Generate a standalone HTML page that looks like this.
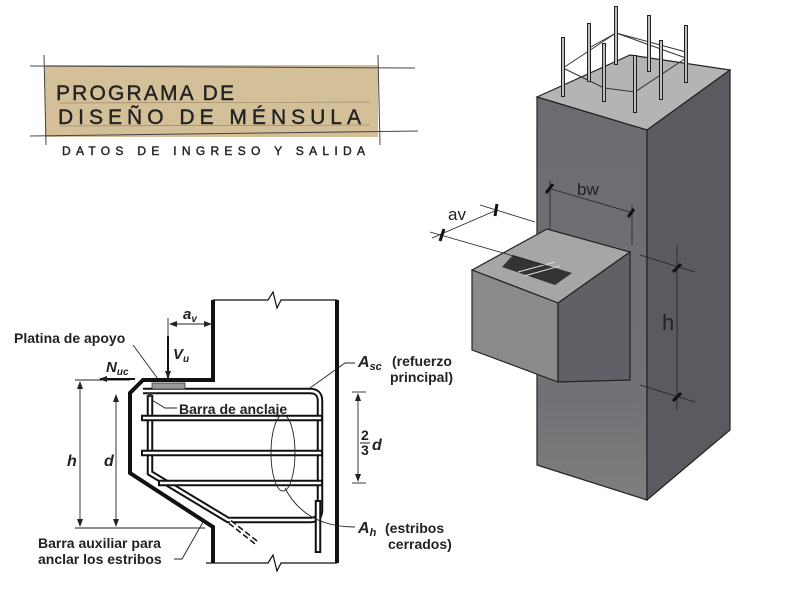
<!DOCTYPE html>
<html><head><meta charset="utf-8"><style>
html,body{margin:0;padding:0;background:#fff;width:800px;height:600px;overflow:hidden}
svg{display:block}
.t{font-family:"Liberation Sans",Arial,sans-serif;font-weight:bold;font-size:14px;fill:#222}
.i{font-family:"Liberation Sans",Arial,sans-serif;font-weight:bold;font-style:italic;fill:#222}
.h{font-family:"Liberation Sans",Arial,sans-serif;fill:#222;letter-spacing:2px;stroke:#222;stroke-width:0.4}
</style></head><body>
<svg width="800" height="600" viewBox="0 0 800 600" xmlns="http://www.w3.org/2000/svg">
<defs>
<marker id="ar" markerWidth="8" markerHeight="8" refX="7" refY="4" orient="auto" markerUnits="userSpaceOnUse"><path d="M0,1 L8,4 L0,7 Z" fill="#222"/></marker>
<marker id="ar2" markerWidth="8" markerHeight="8" refX="7" refY="4" orient="auto-start-reverse" markerUnits="userSpaceOnUse"><path d="M0,1 L8,4 L0,7 Z" fill="#222"/></marker>
<linearGradient id="fg" x1="0" y1="0" x2="0" y2="1"><stop offset="0" stop-color="#6c6c70"/><stop offset="0.75" stop-color="#727276"/><stop offset="1" stop-color="#7e7e80"/></linearGradient>
</defs>

<!-- Title -->
<rect x="45" y="65" width="333" height="72" fill="#d3bf98"/>
<line x1="30" y1="66" x2="415" y2="68" stroke="#444" stroke-width="1"/>
<line x1="30" y1="136" x2="418" y2="131" stroke="#444" stroke-width="1"/>
<line x1="44" y1="55" x2="46" y2="145" stroke="#444" stroke-width="1"/>
<line x1="378" y1="55" x2="380" y2="145" stroke="#444" stroke-width="1"/>
<line x1="60" y1="103" x2="370" y2="102" stroke="#8a7a5a" stroke-width="0.6"/>
<line x1="60" y1="126" x2="370" y2="125" stroke="#8a7a5a" stroke-width="0.6"/>
<text x="56" y="100" class="h" font-size="21" textLength="180">PROGRAMA DE</text>
<text x="58" y="124" class="h" font-size="21" textLength="305">DISEÑO DE MÉNSULA</text>
<text x="62" y="155" class="h" font-size="12" textLength="305">DATOS DE INGRESO Y SALIDA</text>

<!-- 3D column -->
<polygon points="537,97 630,55 730,70 647,130" fill="#b4b4b4" stroke="#222" stroke-width="1.2"/>
<polygon points="537,97 647,130 647,500 537,465" fill="url(#fg)" stroke="#222" stroke-width="1.2"/>
<polygon points="647,130 730,70 730,430 647,500" fill="#5a5a60" stroke="#222" stroke-width="1.2"/>
<!-- rebars -->
<g stroke="#333" stroke-width="1" fill="none">
<polyline points="563,68 604,88 635,92 686,58 616,33 563,68"/>
<polyline points="589,48 616,33 686,52"/>
</g>
<g stroke="#222" stroke-width="4">
<line x1="563" y1="37" x2="563" y2="97"/><line x1="589" y1="23" x2="589" y2="82"/>
<line x1="604" y1="43" x2="604" y2="102"/><line x1="616" y1="6" x2="616" y2="65"/>
<line x1="635" y1="55" x2="635" y2="113"/><line x1="649" y1="15" x2="649" y2="72"/>
<line x1="661" y1="40" x2="661" y2="100"/><line x1="686" y1="25" x2="686" y2="83"/>
</g>
<g stroke="#e6e6e6" stroke-width="1.6"><line x1="563" y1="38" x2="563" y2="96"/><line x1="589" y1="24" x2="589" y2="81"/><line x1="604" y1="44" x2="604" y2="101"/><line x1="616" y1="7" x2="616" y2="64"/><line x1="635" y1="56" x2="635" y2="112"/><line x1="649" y1="16" x2="649" y2="71"/><line x1="661" y1="41" x2="661" y2="99"/><line x1="686" y1="26" x2="686" y2="82"/></g>
<!-- corbel -->
<polygon points="472,270 547,229 630,252 558,303" fill="#a6a6a6" stroke="#222" stroke-width="1.2"/>
<polygon points="472,270 558,303 558,382 472,350" fill="#8a8a8c" stroke="#222" stroke-width="1.2"/>
<polygon points="558,303 630,252 630,380 558,382" fill="#606066" stroke="#222" stroke-width="1.2"/>
<polygon points="502,267 513,255 572,273 555,285" fill="#333"/>
<line x1="518" y1="272" x2="555" y2="262" stroke="#ddd" stroke-width="1"/>
<line x1="524" y1="276" x2="560" y2="266" stroke="#ddd" stroke-width="1"/>
<!-- dims 3D -->
<g stroke="#222" stroke-width="0.8" fill="none">
<line x1="432" y1="238" x2="497" y2="210"/><line x1="430" y1="232" x2="545" y2="265"/><line x1="480" y1="205" x2="535" y2="222"/>
<line x1="548" y1="188" x2="633" y2="213"/><line x1="550" y1="180" x2="550" y2="230"/><line x1="632" y1="205" x2="632" y2="245"/>
<line x1="677" y1="245" x2="677" y2="410"/><line x1="640" y1="255" x2="695" y2="272"/><line x1="640" y1="385" x2="695" y2="402"/>
</g>
<g stroke="#111" stroke-width="3"><line x1="440" y1="241" x2="444" y2="229"/><line x1="495" y1="216" x2="497" y2="204"/><line x1="546" y1="193" x2="553" y2="184"/><line x1="628" y1="217" x2="634" y2="209"/><line x1="673" y1="272" x2="681" y2="264"/><line x1="673" y1="401" x2="681" y2="393"/></g>
<text x="448" y="220" font-family="Liberation Sans,sans-serif" font-size="17" fill="#222">av</text>
<text x="577" y="195" font-family="Liberation Sans,sans-serif" font-size="17" fill="#222">bw</text>
<text x="662" y="330" font-family="Liberation Sans,sans-serif" font-size="22" fill="#222">h</text>

<!-- 2D section -->
<g stroke="#111" fill="none">
<polyline points="213,300 213,380 143,380 130,393 130,473 213,527 213,563" stroke-width="4"/>
<line x1="337" y1="300" x2="337" y2="563" stroke-width="4"/>
<polyline points="213,300 268,300 273,292 277,308 281,300 337,300" stroke-width="1.2"/>
<polyline points="206,563 268,563 273,555 277,571 281,563 337,563" stroke-width="1.2"/>
<path d="M143,391 H310 Q320,391 320,401 V510 Q320,520 310,520 H228 L150,473 V395" stroke-width="6.5"/>
<path d="M143,391 H310 Q320,391 320,401 V510 Q320,520 310,520 H228 L150,473 V395" stroke="#fff" stroke-width="2.5"/>
<line x1="230" y1="522" x2="258" y2="544" stroke-width="5" stroke-dasharray="6,3"/>
<line x1="230" y1="522" x2="258" y2="544" stroke="#fff" stroke-width="2"/>
<g stroke-width="6.5"><line x1="141" y1="418" x2="323" y2="418"/><line x1="141" y1="453" x2="323" y2="453"/><line x1="158" y1="483" x2="323" y2="483"/><line x1="318" y1="500" x2="318" y2="553"/></g>
<g stroke="#fff" stroke-width="2.5"><line x1="143" y1="418" x2="321" y2="418"/><line x1="143" y1="453" x2="321" y2="453"/><line x1="160" y1="483" x2="321" y2="483"/><line x1="318" y1="502" x2="318" y2="551"/></g>
</g>
<rect x="152" y="383" width="33" height="6" fill="#999" stroke="#333" stroke-width="0.8"/>
<rect x="148" y="393" width="4" height="4" fill="#333"/>
<ellipse cx="283" cy="453" rx="12" ry="38" fill="none" stroke="#222" stroke-width="0.9"/>
<g stroke="#222" stroke-width="0.9" fill="none">
<line x1="75" y1="380" x2="130" y2="380"/><line x1="75" y1="528" x2="205" y2="528"/>
<line x1="80" y1="382" x2="80" y2="526" marker-start="url(#ar2)" marker-end="url(#ar)"/>
<line x1="116" y1="395" x2="116" y2="526" marker-start="url(#ar2)" marker-end="url(#ar)"/>
<line x1="352" y1="392" x2="366" y2="392"/><line x1="352" y1="483" x2="366" y2="483"/>
<line x1="358" y1="394" x2="358" y2="481" marker-start="url(#ar2)" marker-end="url(#ar)"/>
<line x1="168" y1="318" x2="168" y2="345"/>
<line x1="170" y1="324" x2="211" y2="324" marker-start="url(#ar2)" marker-end="url(#ar)"/>
<line x1="133" y1="345" x2="158" y2="379"/>
<polyline points="177,408 165,408 152,400"/>
<polyline points="355,363 345,363 310,388"/>
<path d="M285,488 Q305,527 355,527"/>
<polyline points="174,559 182,559 203,522"/>
</g>
<line x1="168" y1="336" x2="168" y2="378" stroke="#111" stroke-width="2" marker-end="url(#ar)"/>
<line x1="135" y1="379" x2="100" y2="379" stroke="#111" stroke-width="2" marker-end="url(#ar)"/>
<text x="14" y="343" class="t">Platina de apoyo</text>
<text x="179" y="414" class="t">Barra de anclaje</text>
<text x="392" y="366" class="t">(refuerzo</text>
<text x="390" y="382" class="t">principal)</text>
<text x="385" y="533" class="t">(estribos</text>
<text x="388" y="549" class="t">cerrados)</text>
<text x="38" y="548" class="t">Barra auxiliar para</text>
<text x="38" y="564" class="t">anclar los estribos</text>
<text x="358" y="367" class="i" font-size="16">A<tspan font-size="11" dy="3">sc</tspan></text>
<text x="358" y="533" class="i" font-size="16">A<tspan font-size="11" dy="3">h</tspan></text>
<text x="183" y="319" class="i" font-size="15">a<tspan font-size="10" dy="3">v</tspan></text>
<text x="173" y="359" class="i" font-size="15">V<tspan font-size="10" dy="3">u</tspan></text>
<text x="106" y="372" class="i" font-size="15">N<tspan font-size="10" dy="3">uc</tspan></text>
<text x="67" y="466" class="i" font-size="16">h</text>
<text x="104" y="466" class="i" font-size="16">d</text>
<text x="361" y="440" class="t" font-size="12">2</text>
<line x1="360" y1="443" x2="370" y2="443" stroke="#222" stroke-width="1"/>
<text x="361" y="455" class="t" font-size="12">3</text>
<text x="372" y="450" class="i" font-size="16">d</text>
</svg>
</body></html>
